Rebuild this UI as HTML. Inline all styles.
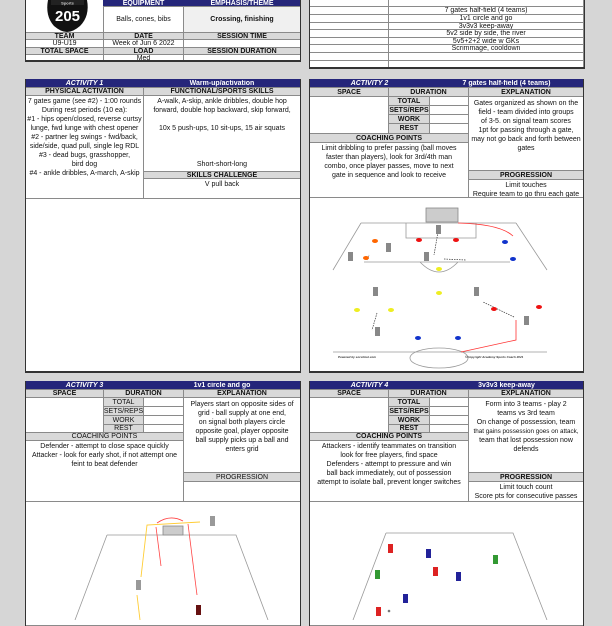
<!DOCTYPE html>
<html><head><meta charset="utf-8">
<style>
*{margin:0;padding:0}
body{width:612px;height:620px;overflow:hidden;background:#d6d6d6;position:relative;font-family:"Liberation Sans",sans-serif}
.b{position:absolute;box-sizing:border-box;border:1px solid #8a8a8a;background:#fff;font-size:7px;color:#111;display:flex;align-items:center;justify-content:center;text-align:center;line-height:9px;white-space:nowrap;overflow:hidden}
.n{background:#25267a;color:#fff;font-weight:bold;border-color:#25267a}
.i{font-style:italic}
.g{background:#d9d9d9;font-weight:bold}
.t{display:block;padding-top:1px}
.o{position:absolute;box-sizing:border-box;border:1.5px solid #333;pointer-events:none}
svg{position:absolute}
</style></head><body>

<!-- top left sheet -->
<div class="b" style="left:25px;top:-1px;width:79px;height:34px"></div>
<svg style="left:45px;top:0" width="45" height="32" viewBox="0 0 45 32">
<path d="M3 0 L42 0 Q45 16 35 26 Q28 32 22 32 Q16 32 9 26 Q0 16 3 0Z" fill="#111"/>
<rect x="6" y="0" width="33" height="5" fill="#222"/>
<text x="22.5" y="4.5" font-size="4" fill="#ccc" text-anchor="middle" font-family="Liberation Sans" font-weight="bold">Sports</text>
<text x="22.5" y="21" font-size="15" fill="#fff" text-anchor="middle" font-family="Liberation Sans" font-weight="bold">205</text>
</svg>
<div class="b n" style="left:103px;top:-1px;width:81px;height:8px">EQUIPMENT</div>
<div class="b n" style="left:183px;top:-1px;width:118px;height:8px">EMPHASIS/THEME</div>
<div class="b" style="left:103px;top:6px;width:81px;height:27px">Balls, cones, bibs</div>
<div class="b" style="left:183px;top:6px;width:118px;height:27px;background:#f0f0f0;font-weight:bold">Crossing, finishing</div>
<div class="b g" style="left:25px;top:32px;width:79px;height:8px">TEAM</div>
<div class="b g" style="left:103px;top:32px;width:81px;height:8px">DATE</div>
<div class="b g" style="left:183px;top:32px;width:118px;height:8px">SESSION TIME</div>
<div class="b" style="left:25px;top:39px;width:79px;height:9px">U9-U19</div>
<div class="b" style="left:103px;top:39px;width:81px;height:9px">Week of Jun 6 2022</div>
<div class="b" style="left:183px;top:39px;width:118px;height:9px"></div>
<div class="b g" style="left:25px;top:47px;width:79px;height:8px">TOTAL SPACE</div>
<div class="b g" style="left:103px;top:47px;width:81px;height:8px">LOAD</div>
<div class="b g" style="left:183px;top:47px;width:118px;height:8px">SESSION DURATION</div>
<div class="b" style="left:25px;top:54px;width:79px;height:8px"></div>
<div class="b" style="left:103px;top:54px;width:81px;height:8px">Med</div>
<div class="b" style="left:183px;top:54px;width:118px;height:8px"></div>
<div class="o" style="left:25px;top:-2px;width:276px;height:64px;border-width:0 1px 2px 1px"></div>

<!-- top right sheet -->
<div class="b" style="left:309px;top:-1px;width:80px;height:8px"></div><div class="b" style="left:388px;top:-1px;width:196px;height:8px"></div>
<div class="b" style="left:309px;top:6px;width:80px;height:9px"></div><div class="b" style="left:388px;top:6px;width:196px;height:9px">7 gates half-field (4 teams)</div>
<div class="b" style="left:309px;top:14px;width:80px;height:9px"></div><div class="b" style="left:388px;top:14px;width:196px;height:9px">1v1 circle and go</div>
<div class="b" style="left:309px;top:22px;width:80px;height:8px"></div><div class="b" style="left:388px;top:22px;width:196px;height:8px">3v3v3 keep-away</div>
<div class="b" style="left:309px;top:29px;width:80px;height:9px"></div><div class="b" style="left:388px;top:29px;width:196px;height:9px">5v2 side by side, the river</div>
<div class="b" style="left:309px;top:37px;width:80px;height:8px"></div><div class="b" style="left:388px;top:37px;width:196px;height:8px">5v5+2+2 wide w GKs</div>
<div class="b" style="left:309px;top:44px;width:80px;height:9px"></div><div class="b" style="left:388px;top:44px;width:196px;height:9px">Scrimmage, cooldown</div>
<div class="b" style="left:309px;top:52px;width:80px;height:9px"></div><div class="b" style="left:388px;top:52px;width:196px;height:9px"></div>
<div class="b" style="left:309px;top:60px;width:80px;height:9px"></div><div class="b" style="left:388px;top:60px;width:196px;height:9px"></div>
<div class="o" style="left:309px;top:-2px;width:276px;height:71px;border-width:0 1px 2px 1px"></div>

<!-- ACTIVITY 1 -->
<div class="b n i" style="left:25px;top:79px;width:119px;height:9px">ACTIVITY 1</div>
<div class="b n" style="left:143px;top:79px;width:158px;height:9px">Warm-up/activation</div>
<div class="b g" style="left:25px;top:87px;width:119px;height:9px">PHYSICAL ACTIVATION</div>
<div class="b g" style="left:143px;top:87px;width:158px;height:9px">FUNCTIONAL/SPORTS SKILLS</div>
<div class="b t" style="left:25px;top:95px;width:119px;height:104px">7 gates game (see #2) - 1:00 rounds<br>During rest periods (10 ea):<br>#1 - hips open/closed, reverse curtsy<br>lunge, fwd lunge with chest opener<br>#2 - partner leg swings - fwd/back,<br>side/side, quad pull, single leg RDL<br>#3 - dead bugs, grasshopper,<br>bird dog<br>#4 - ankle dribbles, A-march, A-skip</div>
<div class="b t" style="left:143px;top:95px;width:158px;height:77px">A-walk, A-skip, ankle dribbles, double hop<br>forward, double hop backward, skip forward,<br><br>10x 5 push-ups, 10 sit-ups, 15 air squats<br><br><br><br>Short-short-long</div>
<div class="b g" style="left:143px;top:171px;width:158px;height:8px">SKILLS CHALLENGE</div>
<div class="b t" style="left:143px;top:178px;width:158px;height:21px">V pull back</div>
<div class="b" style="left:25px;top:198px;width:276px;height:174px"></div>
<div class="o" style="left:25px;top:79px;width:276px;height:294px;border-width:0 1px 2px 1px"></div>

<!-- ACTIVITY 2 -->
<div class="b n i" style="left:309px;top:79px;width:121px;height:9px">ACTIVITY 2</div>
<div class="b n" style="left:429px;top:79px;width:155px;height:9px">7 gates half-field (4 teams)</div>
<div class="b g" style="left:309px;top:87px;width:80px;height:10px">SPACE</div>
<div class="b g" style="left:388px;top:87px;width:81px;height:10px">DURATION</div>
<div class="b g" style="left:468px;top:87px;width:116px;height:10px">EXPLANATION</div>
<div class="b" style="left:309px;top:96px;width:80px;height:38px"></div>
<div class="b g" style="left:388px;top:96px;width:42px;height:10px">TOTAL</div><div class="b" style="left:429px;top:96px;width:40px;height:10px"></div>
<div class="b g" style="left:388px;top:105px;width:42px;height:10px">SETS/REPS</div><div class="b" style="left:429px;top:105px;width:40px;height:10px"></div>
<div class="b g" style="left:388px;top:114px;width:42px;height:10px">WORK</div><div class="b" style="left:429px;top:114px;width:40px;height:10px"></div>
<div class="b g" style="left:388px;top:123px;width:42px;height:11px">REST</div><div class="b" style="left:429px;top:123px;width:40px;height:11px"></div>
<div class="b g" style="left:309px;top:133px;width:160px;height:10px">COACHING POINTS</div>
<div class="b t" style="left:309px;top:142px;width:160px;height:56px">Limit dribbling to prefer passing (ball moves<br>faster than players), look for 3rd/4th man<br>combo, once player passes, move to next<br>gate in sequence and look to receive</div>
<div class="b t" style="left:468px;top:96px;width:116px;height:75px;padding-top:2px">Gates organized as shown on the<br>field - team divided into groups<br>of 3-5. on signal team scores<br>1pt for passing through a gate,<br>may not go back and forth between<br>gates</div>
<div class="b g" style="left:468px;top:170px;width:116px;height:10px">PROGRESSION</div>
<div class="b t" style="left:468px;top:179px;width:116px;height:19px">Limit touches<br>Require team to go thru each gate</div>
<div class="b" style="left:309px;top:197px;width:275px;height:176px"></div>
<svg style="left:309px;top:197px" width="275" height="176" viewBox="309 197 275 176">
<g fill="none" stroke="#999" stroke-width="0.8">
<path d="M361 223 L516 223 M361 223 L333 270 M516 223 L547 270"/>
<path d="M406 223 L406 238 L476 238 L476 223"/>
<path d="M364 262 L510 262 M420 262 Q439 282 458 262"/>
<path d="M333 352 L547 352"/>
<ellipse cx="439" cy="358" rx="29" ry="10"/>
</g>
<rect x="426" y="208" width="32" height="14" fill="#ccc" stroke="#888" stroke-width="0.8"/>
<g stroke="#f33" stroke-width="0.8" fill="none"><path d="M458 223 Q500 224 513 236"/><path d="M516 320 L516 340 L461 352"/></g>
<g stroke="#333" stroke-width="0.7" fill="none" stroke-dasharray="1.5,1"><path d="M438 232 L434 255"/><path d="M444 259 L466 260"/><path d="M514 317 L483 302"/><path d="M377 313 L372 330"/><path d="M367 260 L369 255"/></g>
<g><ellipse cx="375" cy="241" rx="3" ry="2" fill="#f60"/><ellipse cx="366" cy="258" rx="3" ry="2" fill="#f60"/>
<ellipse cx="419" cy="240" rx="3" ry="2" fill="#e11"/><ellipse cx="456" cy="240" rx="3" ry="2" fill="#e11"/>
<ellipse cx="505" cy="242" rx="3" ry="2" fill="#13c"/><ellipse cx="513" cy="259" rx="3" ry="2" fill="#13c"/>
<ellipse cx="439" cy="269" rx="3" ry="2" fill="#ee2"/><ellipse cx="439" cy="293" rx="3" ry="2" fill="#ee2"/>
<ellipse cx="357" cy="310" rx="3" ry="2" fill="#ee2"/><ellipse cx="391" cy="310" rx="3" ry="2" fill="#ee2"/>
<ellipse cx="494" cy="309" rx="3" ry="2" fill="#e11"/><ellipse cx="539" cy="307" rx="3" ry="2" fill="#e11"/>
<ellipse cx="418" cy="338" rx="3" ry="2" fill="#13c"/><ellipse cx="458" cy="338" rx="3" ry="2" fill="#13c"/></g>
<g fill="#888"><rect x="436" y="225" width="5" height="9"/><rect x="386" y="243" width="5" height="9"/><rect x="348" y="252" width="5" height="9"/><rect x="424" y="252" width="5" height="9"/><rect x="373" y="287" width="5" height="9"/><rect x="474" y="287" width="5" height="9"/><rect x="375" y="327" width="5" height="9"/><rect x="524" y="316" width="5" height="9"/></g>
<g font-family="Liberation Sans" font-size="3" font-style="italic" font-weight="bold" fill="#333"><text x="338" y="358">Powered by soccitout.com</text><text x="465" y="358">©Copyright Academy Sports Coach 2021</text></g>
</svg>
<div class="o" style="left:309px;top:79px;width:275px;height:294px;border-width:0 1px 2px 1px"></div>

<!-- ACTIVITY 3 -->
<div class="b n i" style="left:25px;top:381px;width:119px;height:9px">ACTIVITY 3</div>
<div class="b n" style="left:143px;top:381px;width:158px;height:9px">1v1 circle and go</div>
<div class="b g" style="left:25px;top:389px;width:79px;height:9px">SPACE</div>
<div class="b g" style="left:103px;top:389px;width:81px;height:9px">DURATION</div>
<div class="b g" style="left:183px;top:389px;width:118px;height:9px">EXPLANATION</div>
<div class="b" style="left:25px;top:397px;width:79px;height:36px"></div>
<div class="b g" style="left:103px;top:397px;width:41px;height:10px;font-weight:normal">TOTAL</div><div class="b" style="left:143px;top:397px;width:41px;height:10px"></div>
<div class="b g" style="left:103px;top:406px;width:41px;height:10px;font-weight:normal">SETS/REPS</div><div class="b" style="left:143px;top:406px;width:41px;height:10px"></div>
<div class="b g" style="left:103px;top:415px;width:41px;height:10px;font-weight:normal">WORK</div><div class="b" style="left:143px;top:415px;width:41px;height:10px"></div>
<div class="b g" style="left:103px;top:424px;width:41px;height:9px;font-weight:normal">REST</div><div class="b" style="left:143px;top:424px;width:41px;height:9px"></div>
<div class="b g" style="left:25px;top:432px;width:159px;height:9px;font-weight:normal">COACHING POINTS</div>
<div class="b t" style="left:25px;top:440px;width:159px;height:62px">Defender - attempt to close space quickly<br>Attacker - look for early shot, if not attempt one<br>feint to beat defender</div>
<div class="b t" style="left:183px;top:397px;width:118px;height:76px;padding-top:2px">Players start on opposite sides of<br>grid - ball supply at one end,<br>on signal both players circle<br>opposite goal, player opposite<br>ball supply picks up a ball and<br>enters grid</div>
<div class="b g" style="left:183px;top:472px;width:118px;height:10px;font-weight:normal">PROGRESSION</div>
<div class="b" style="left:183px;top:481px;width:118px;height:21px"></div>
<div class="b" style="left:25px;top:501px;width:276px;height:125px"></div>
<svg style="left:25px;top:501px" width="276" height="119" viewBox="25 501 276 119">
<path d="M107 535 L236 535 L268 620 M107 535 L75 620" fill="none" stroke="#999" stroke-width="0.8"/>
<rect x="163" y="526" width="20" height="9" fill="#ccc" stroke="#888" stroke-width="0.8"/>
<g fill="none" stroke="#fc3" stroke-width="0.9"><path d="M200 522 L147 525 L141 577"/><path d="M137 595 L140 620"/></g>
<g fill="none" stroke="#f44" stroke-width="0.8"><path d="M157 523 Q170 514 183 521"/><path d="M156 527 L161 566"/><path d="M197 595 L188 524"/></g>
<rect x="210" y="516" width="5" height="10" fill="#999"/><rect x="136" y="580" width="5" height="10" fill="#999"/><rect x="196" y="605" width="5" height="10" fill="#611"/>
</svg>
<div class="o" style="left:25px;top:381px;width:276px;height:245px;border-width:0 1px 0 1px"></div>

<!-- ACTIVITY 4 -->
<div class="b n i" style="left:309px;top:381px;width:121px;height:9px">ACTIVITY 4</div>
<div class="b n" style="left:429px;top:381px;width:155px;height:9px">3v3v3 keep-away</div>
<div class="b g" style="left:309px;top:389px;width:80px;height:9px">SPACE</div>
<div class="b g" style="left:388px;top:389px;width:81px;height:9px">DURATION</div>
<div class="b g" style="left:468px;top:389px;width:116px;height:9px">EXPLANATION</div>
<div class="b" style="left:309px;top:397px;width:80px;height:36px"></div>
<div class="b g" style="left:388px;top:397px;width:42px;height:10px">TOTAL</div><div class="b" style="left:429px;top:397px;width:40px;height:10px"></div>
<div class="b g" style="left:388px;top:406px;width:42px;height:10px">SETS/REPS</div><div class="b" style="left:429px;top:406px;width:40px;height:10px"></div>
<div class="b g" style="left:388px;top:415px;width:42px;height:10px">WORK</div><div class="b" style="left:429px;top:415px;width:40px;height:10px"></div>
<div class="b g" style="left:388px;top:424px;width:42px;height:9px">REST</div><div class="b" style="left:429px;top:424px;width:40px;height:9px"></div>
<div class="b g" style="left:309px;top:432px;width:160px;height:9px">COACHING POINTS</div>
<div class="b t" style="left:309px;top:440px;width:160px;height:62px">Attackers - identify teammates on transition<br>look for free players, find space<br>Defenders - attempt to pressure and win<br>ball back immediately, out of possession<br>attempt to isolate ball, prevent longer switches</div>
<div class="b t" style="left:468px;top:397px;width:116px;height:76px;padding-top:2px">Form into 3 teams - play 2<br>teams vs 3rd team<br>On change of possession, team<br><span style="font-size:6.3px">that gains possession goes on attack,</span><br>team that lost possession now<br>defends</div>
<div class="b g" style="left:468px;top:472px;width:116px;height:10px">PROGRESSION</div>
<div class="b t" style="left:468px;top:481px;width:116px;height:21px">Limit touch count<br>Score pts for consecutive passes</div>
<div class="b" style="left:309px;top:501px;width:275px;height:125px"></div>
<svg style="left:309px;top:501px" width="275" height="119" viewBox="309 501 275 119">
<path d="M386 533 L513 533 L547 620 M386 533 L353 620" fill="none" stroke="#999" stroke-width="0.8"/>
<rect x="388" y="544" width="5" height="9" fill="#d22"/><rect x="426" y="549" width="5" height="9" fill="#229"/><rect x="493" y="555" width="5" height="9" fill="#393"/>
<rect x="375" y="570" width="5" height="9" fill="#393"/><rect x="433" y="567" width="5" height="9" fill="#d22"/><rect x="456" y="572" width="5" height="9" fill="#229"/>
<rect x="403" y="594" width="5" height="9" fill="#229"/><rect x="376" y="607" width="5" height="9" fill="#d22"/><circle cx="389" cy="611" r="1.3" fill="#777"/>
</svg>
<div class="o" style="left:309px;top:381px;width:275px;height:245px;border-width:0 1px 0 1px"></div>
</body></html>
